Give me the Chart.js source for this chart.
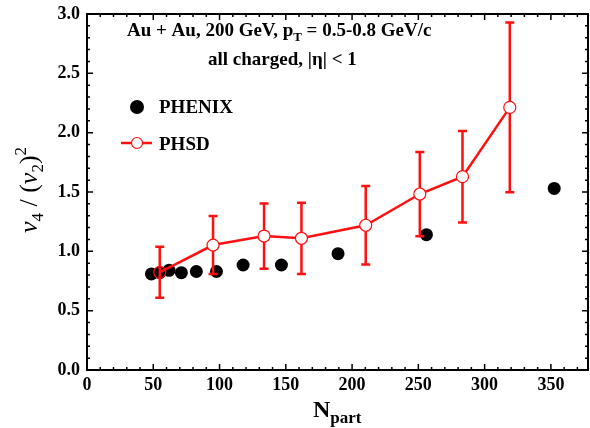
<!DOCTYPE html>
<html>
<head>
<meta charset="utf-8">
<script src="https://cdn.jsdelivr.net/npm/chart.js@4.4.1/dist/chart.umd.min.js"></script>
<style>
  html, body { margin: 0; padding: 0; background: #fff; }
  #wrap { width: 590px; height: 428px; }
</style>
</head>
<body>
<div id="wrap"><canvas id="v4chart" width="590" height="428"></canvas></div>
<script>
// PHENIX data (black dots)
const phenixNpart = [48.6, 54.9, 61.9, 71.2, 82.5, 97.7, 117.8, 146.7, 189.4, 256.1, 352.5];
const phenixRatio = [0.81, 0.82, 0.84, 0.82, 0.83, 0.83, 0.885, 0.885, 0.98, 1.14, 1.53];

// PHSD data (red line, open circles, error bars)
const phsdNpart = [54.9, 95.1, 133.6, 161.8, 210.3, 251.1, 283.3, 319.0];
const phsdRatio = [0.823, 1.053, 1.129, 1.11, 1.22, 1.483, 1.629, 2.213];
const phsdErr   = [0.215, 0.245, 0.275, 0.30, 0.33, 0.355, 0.385, 0.715];

const xTicks = [0, 50, 100, 150, 200, 250, 300, 350];
const yTicks = [0.0, 0.5, 1.0, 1.5, 2.0, 2.5, 3.0];

const RED = '#ff1010';
const SERIF = '"Liberation Serif", "DejaVu Serif", serif';

// helper : texte avec indices / exposants
function drawRich(ctx, parts, x, y) {
    let cx = x;
    parts.forEach(p => {
        ctx.font = p.font;
        ctx.fillText(p.t, cx, y + (p.dy || 0));
        cx += ctx.measureText(p.t).width;
    });
    return cx;
}
function richWidth(ctx, parts) {
    let w = 0;
    parts.forEach(p => { ctx.font = p.font; w += ctx.measureText(p.t).width; });
    return w;
}

// barres d'erreur PHSD (dessinées juste avant le dataset PHSD)
const errorBars = {
    id: 'errorBars',
    beforeDatasetDraw(chart, args) {
        if (args.index !== 0) return;
        const {ctx, scales: {x, y}} = chart;
        ctx.save();
        ctx.strokeStyle = RED;
        ctx.lineWidth = 2.5;
        phsdNpart.forEach((n, i) => {
            const px = x.getPixelForValue(n);
            const top = y.getPixelForValue(phsdRatio[i] + phsdErr[i]);
            const bot = y.getPixelForValue(phsdRatio[i] - phsdErr[i]);
            ctx.beginPath();
            ctx.moveTo(px, top); ctx.lineTo(px, bot);
            ctx.moveTo(px - 4.5, top); ctx.lineTo(px + 4.5, top);
            ctx.moveTo(px - 4.5, bot); ctx.lineTo(px + 4.5, bot);
            ctx.stroke();
        });
        ctx.restore();
    }
};

// cadre, graduations intérieures, titres, légende, annotations
const decorations = {
    id: 'decorations',
    afterDraw(chart) {
        const {ctx, chartArea: a, scales: {x, y}} = chart;
        ctx.save();
        ctx.strokeStyle = '#000';
        ctx.lineWidth = 1.5;
        // graduations x (tous les 10)
        for (let v = 0; v <= x.max; v += 10) {
            const px = x.getPixelForValue(v);
            const len = (v % 50 === 0) ? 6 : 3;
            ctx.beginPath();
            ctx.moveTo(px, a.bottom); ctx.lineTo(px, a.bottom - len);
            ctx.moveTo(px, a.top); ctx.lineTo(px, a.top + len);
            ctx.stroke();
        }
        // graduations y (tous les 0.1)
        for (let k = 0; k <= 30; k++) {
            const py = y.getPixelForValue(k / 10);
            const len = (k % 5 === 0) ? 6 : 3;
            ctx.beginPath();
            ctx.moveTo(a.left, py); ctx.lineTo(a.left + len, py);
            ctx.moveTo(a.right, py); ctx.lineTo(a.right - len, py);
            ctx.stroke();
        }
        // cadre
        ctx.lineWidth = 2;
        ctx.strokeRect(a.left, a.top, a.right - a.left, a.bottom - a.top);

        ctx.fillStyle = '#000';
        ctx.textBaseline = 'alphabetic';
        ctx.textAlign = 'left';

        // annotations
        const b19 = 'bold 19px ' + SERIF;
        const b13 = 'bold 13px ' + SERIF;
        drawRich(ctx, [
            {t: 'Au + Au, 200 GeV, p', font: b19},
            {t: 'T', font: b13, dy: 5},
            {t: ' = 0.5-0.8 GeV/c', font: b19}
        ], 127, 36);
        ctx.font = b19;
        ctx.fillText('all charged, |\u03b7| < 1', 208, 65);

        // légende
        ctx.beginPath();
        ctx.arc(137, 107, 7, 0, Math.PI * 2);
        ctx.fill();
        ctx.fillText('PHENIX', 159, 113);

        ctx.strokeStyle = RED;
        ctx.lineWidth = 2.5;
        ctx.beginPath();
        ctx.moveTo(121, 143); ctx.lineTo(152, 143);
        ctx.stroke();
        ctx.fillStyle = '#fff';
        ctx.lineWidth = 1.2;
        ctx.beginPath();
        ctx.arc(137, 143, 5.5, 0, Math.PI * 2);
        ctx.fill(); ctx.stroke();
        ctx.fillStyle = '#000';
        ctx.font = b19;
        ctx.fillText('PHSD', 159, 150);

        // titre axe x
        const xParts = [
            {t: 'N', font: 'bold 24px ' + SERIF},
            {t: 'part', font: 'bold 17px ' + SERIF, dy: 6}
        ];
        drawRich(ctx, xParts, 313, 417);

        // titre axe y
        const iBig = 'italic 26px ' + SERIF;
        const rBig = '26px ' + SERIF;
        const rSmall = '17px ' + SERIF;
        const yParts = [
            {t: 'v', font: iBig},
            {t: '4', font: rSmall, dy: 6},
            {t: ' / (', font: rBig},
            {t: 'v', font: iBig},
            {t: '2', font: rSmall, dy: 6},
            {t: ')', font: rBig},
            {t: '2', font: rSmall, dy: -11}
        ];
        ctx.translate(37, 190);
        ctx.rotate(-Math.PI / 2);
        drawRich(ctx, yParts, -richWidth(ctx, yParts) / 2, 0);
        ctx.restore();
    }
};

const ctx = document.getElementById('v4chart').getContext('2d');
const chart = new Chart(ctx, {
    type: 'scatter',
    data: {
        datasets: [{
            label: 'PHSD',
            data: phsdNpart.map((n, i) => ({x: n, y: phsdRatio[i]})),
            showLine: true,
            borderColor: RED,
            borderWidth: 2.5,
            pointRadius: 6,
            pointBorderWidth: 1.2,
            pointBorderColor: RED,
            pointBackgroundColor: phsdNpart.map((n, i) => i === 0 ? 'rgba(0,0,0,0)' : '#fff')
        }, {
            label: 'PHENIX',
            data: phenixNpart.map((n, i) => ({x: n, y: phenixRatio[i]})),
            pointRadius: 6.5,
            pointBorderWidth: 0,
            pointBackgroundColor: '#000',
            borderColor: '#000'
        }]
    },
    options: {
        responsive: false,
        animation: false,
        layout: { autoPadding: false, padding: { top: 14, right: 2, left: 0, bottom: 0 } },
        plugins: {
            legend: { display: false },
            tooltip: { enabled: false }
        },
        scales: {
            x: {
                type: 'linear',
                min: 0,
                max: 378,
                grid: { display: false, drawTicks: false },
                border: { display: false },
                afterFit: (s) => { s.height = 58; s.paddingLeft = 0; s.paddingRight = 0; },
                afterBuildTicks: (s) => { s.ticks = xTicks.map(v => ({value: v})); },
                ticks: {
                    color: '#000',
                    padding: 5,
                    maxRotation: 0,
                    font: { family: SERIF, size: 18, weight: 'bold' },
                    callback: (v) => String(v)
                }
            },
            y: {
                min: 0,
                max: 3,
                grid: { display: false, drawTicks: false },
                border: { display: false },
                afterFit: (s) => { s.width = 87; s.paddingTop = 0; s.paddingBottom = 0; },
                afterBuildTicks: (s) => { s.ticks = yTicks.map(v => ({value: v})); },
                ticks: {
                    color: '#000',
                    padding: 7,
                    font: { family: SERIF, size: 18, weight: 'bold' },
                    callback: (v) => v.toFixed(1)
                }
            }
        }
    },
    plugins: [errorBars, decorations]
});
</script>
</body>
</html>
